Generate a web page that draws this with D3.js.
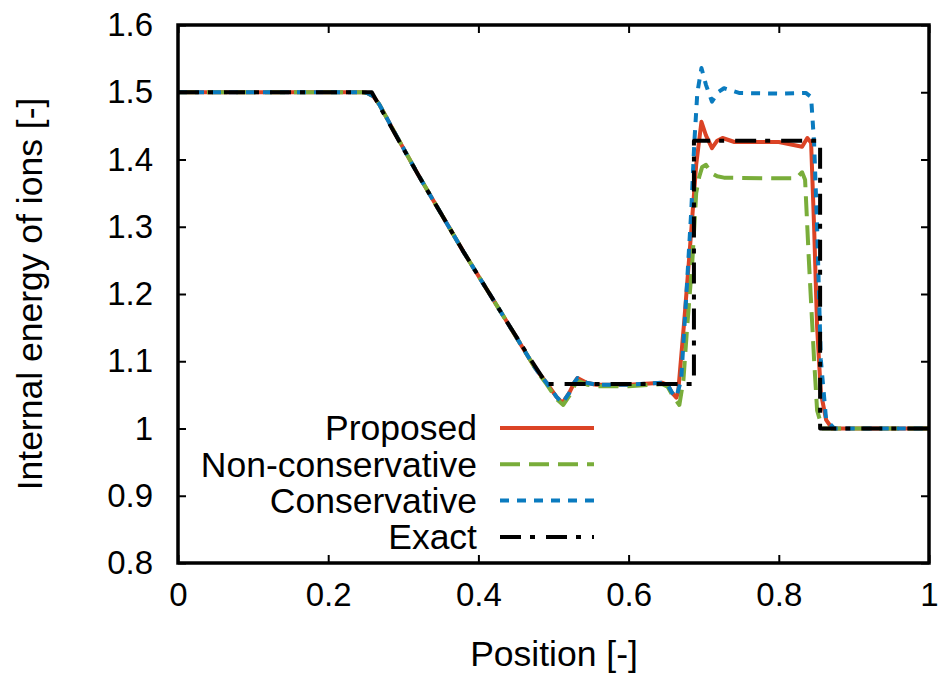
<!DOCTYPE html>
<html><head><meta charset="utf-8">
<script src="https://cdn.jsdelivr.net/npm/d3@7"></script>
<style>body{margin:0;background:#fff}svg{display:block}text{font-family:"Liberation Sans",Arial,sans-serif;fill:#000}</style>
</head><body>
<svg id="c" width="943" height="674"></svg>
<script>
const xTicks = [0, 0.2, 0.4, 0.6, 0.8, 1];
const xTickLabels = ["0", "0.2", "0.4", "0.6", "0.8", "1"];
const yTicks = [0.8, 0.9, 1.0, 1.1, 1.2, 1.3, 1.4, 1.5, 1.6];
const yTickLabels = ["0.8", "0.9", "1", "1.1", "1.2", "1.3", "1.4", "1.5", "1.6"];
const seriesNames = ["Proposed", "Non-conservative", "Conservative", "Exact"];

// shared rarefaction / plateau part of the numerical solutions
const numRare = [[0,1.5],[0.245,1.5],[0.252,1.499],[0.26,1.494],[0.268,1.482],[0.29,1.437],[0.32,1.377],[0.35,1.320],[0.38,1.263],[0.41,1.209],[0.44,1.155],[0.47,1.100],[0.4774,1.087],[0.4907,1.068],[0.504,1.047],[0.512,1.038],[0.521,1.053],[0.528,1.069],[0.532,1.075],[0.544,1.068],[0.557,1.065],[0.60,1.065],[0.645,1.068],[0.652,1.065],[0.658,1.053]];
const numRareNC = [[0,1.5],[0.245,1.5],[0.252,1.499],[0.26,1.494],[0.268,1.482],[0.29,1.437],[0.32,1.377],[0.35,1.320],[0.38,1.263],[0.41,1.209],[0.44,1.155],[0.47,1.100],[0.4774,1.086],[0.4907,1.066],[0.504,1.044],[0.513,1.035],[0.522,1.050],[0.529,1.066],[0.533,1.071],[0.545,1.065],[0.557,1.063],[0.60,1.063],[0.645,1.066],[0.652,1.062]];

const proposedTail = [[0.6636,1.046],[0.666,1.054],[0.6742,1.161],[0.682,1.273],[0.690,1.392],[0.697,1.456],[0.703,1.436],[0.711,1.417],[0.718,1.428],[0.725,1.432],[0.741,1.426],[0.80,1.426],[0.831,1.419],[0.838,1.432],[0.843,1.425],[0.847,1.30],[0.851,1.151],[0.856,1.053],[0.863,1.013],[0.871,1.0],[1,1.0]];
const nonConsTail = [[0.658,1.05],[0.6676,1.035],[0.673,1.072],[0.678,1.151],[0.685,1.251],[0.690,1.350],[0.694,1.374],[0.698,1.389],[0.703,1.392],[0.710,1.380],[0.718,1.375],[0.727,1.373],[0.80,1.372],[0.823,1.372],[0.831,1.381],[0.835,1.370],[0.840,1.251],[0.847,1.102],[0.851,1.027],[0.858,1.0],[1,1.0]];
const consTail = [[0.6636,1.047],[0.670,1.072],[0.677,1.201],[0.6835,1.325],[0.6875,1.425],[0.6915,1.499],[0.697,1.536],[0.703,1.511],[0.711,1.486],[0.719,1.500],[0.727,1.506],[0.747,1.499],[0.80,1.498],[0.836,1.499],[0.843,1.493],[0.847,1.425],[0.851,1.30],[0.856,1.102],[0.863,1.013],[0.874,1.0],[1,1.0]];
const exact = [[0,1.5],[0.258,1.5],[0.29,1.436],[0.32,1.377],[0.35,1.320],[0.38,1.263],[0.41,1.209],[0.44,1.155],[0.47,1.102],[0.491,1.066],[0.687,1.066],[0.687,1.428],[0.855,1.428],[0.855,1.0],[1,1.0]];

const proposed = numRare.concat(proposedTail);
const nonCons = numRareNC.concat(nonConsTail);
const cons = numRare.concat(consTail);

const svg = d3.select("#c");
const L = 178, R = 929, T = 25, B = 563;
const x = d3.scaleLinear().domain([0, 1]).range([L, R]);
const y = d3.scaleLinear().domain([0.8, 1.6]).range([B, T]);
const FS = 33, FL = 35.5;

const styles = [
  {data: proposed, color: "#db4325", dash: null, w: 4},
  {data: nonCons, color: "#79ad3a", dash: "20,9", w: 4},
  {data: cons, color: "#0a7bbf", dash: "9,8", w: 4},
  {data: exact, color: "#000000", dash: "21,9,5,11", w: 4}
];

svg.append("clipPath").attr("id", "cl").append("rect")
  .attr("x", L).attr("y", T).attr("width", R - L).attr("height", B - T);

const line = d3.line().x(d => x(d[0])).y(d => y(d[1]));
const plot = svg.append("g").attr("clip-path", "url(#cl)");
styles.forEach(s => {
  plot.append("path").datum(s.data).attr("d", line)
    .attr("fill", "none").attr("stroke", s.color).attr("stroke-width", s.w)
    .attr("stroke-dasharray", s.dash).attr("stroke-linejoin", "round");
});

// axes with inward ticks
const axB = d3.axisBottom(x).tickValues(xTicks).tickFormat((d, i) => xTickLabels[i]).tickSizeInner(-8).tickSizeOuter(0).tickPadding(20);
const axT = d3.axisTop(x).tickValues(xTicks).tickFormat("").tickSizeInner(-8).tickSizeOuter(0);
const axL = d3.axisLeft(y).tickValues(yTicks).tickFormat((d, i) => yTickLabels[i]).tickSizeInner(-8).tickSizeOuter(0).tickPadding(25);
const axR = d3.axisRight(y).tickValues(yTicks).tickFormat("").tickSizeInner(-8).tickSizeOuter(0);

function style(g) {
  g.select(".domain").remove();
  g.selectAll(".tick line").attr("stroke", "#000").attr("stroke-width", 2);
  g.selectAll(".tick text").attr("font-size", FS).attr("font-family", "Liberation Sans, Arial, sans-serif").attr("fill", "#000");
}
svg.append("g").attr("transform", `translate(0,${B})`).call(axB).call(style);
svg.append("g").attr("transform", `translate(0,${T})`).call(axT).call(style);
svg.append("g").attr("transform", `translate(${L},0)`).call(axL).call(style);
svg.append("g").attr("transform", `translate(${R},0)`).call(axR).call(style);

svg.append("rect").attr("x", L).attr("y", T).attr("width", R - L).attr("height", B - T)
  .attr("fill", "none").attr("stroke", "#000").attr("stroke-width", 3.5);

// legend
const legY0 = 428, legDy = 36.3;
styles.forEach((s, i) => {
  const yy = legY0 + i * legDy;
  svg.append("text").attr("x", 477).attr("y", yy).attr("dy", "0.35em")
    .attr("text-anchor", "end").attr("font-size", FL).text(seriesNames[i]);
  svg.append("line").attr("x1", 500).attr("x2", 594).attr("y1", yy).attr("y2", yy)
    .attr("stroke", s.color).attr("stroke-width", s.w).attr("stroke-dasharray", s.dash);
});

// axis titles
svg.append("text").attr("x", 554).attr("y", 666).attr("text-anchor", "middle")
  .attr("font-size", FL).text("Position [-]");
svg.append("text").attr("transform", `translate(42,${(T + B) / 2}) rotate(-90)`)
  .attr("text-anchor", "middle").attr("font-size", FL).text("Internal energy of ions [-]");
</script>
</body></html>
